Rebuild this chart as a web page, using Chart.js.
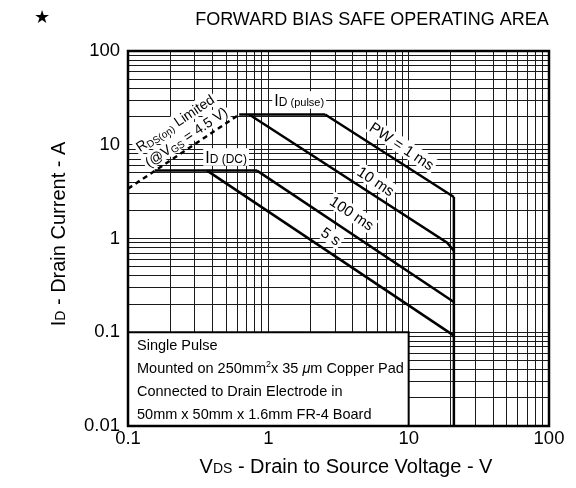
<!DOCTYPE html>
<html>
<head>
<meta charset="utf-8">
<script src="https://cdn.jsdelivr.net/npm/chart.js@4"></script>
<style>
  html, body { margin: 0; padding: 0; background: #fff; }
  canvas { display: block; }
</style>
</head>
<body>
<canvas id="soaChart" width="576" height="488"></canvas>
<script>
// SOA boundary segments, [VDS (V), ID (A)]
const rdsOnLimit = [[0.1, 3.4], [0.62, 21]];
const idPulseLimit = [[0.62, 21], [2.54, 21]];
const pw1ms = [[2.54, 21], [21, 2.77]];
const pw10ms = [[0.73, 21], [18.8, 0.9], [21, 0.74]];
const idDcLimit = [[0.155, 5.3], [0.83, 5.3]];
const pw100ms = [[0.83, 5.3], [21, 0.21]];
const dc5s = [[0.366, 5.3], [21, 0.092]];
const vdssLimit = [[21, 2.77], [21, 0.01]];

// axis ticks
const xLabelValues = [0.1, 1, 10, 100];
const xTickLabels = ["0.1", "1", "10", "100"];
const yLabelValues = [0.01, 0.1, 1, 10, 100];
const yTickLabels = ["0.01", "0.1", "1", "10", "100"];

const FONT = "'Liberation Sans', Arial, sans-serif";

// log grid: 1..9 in every decade
function gridValues(decades) {
  const out = [];
  decades.slice(0, -1).forEach((d) => {
    for (let m = 1; m < 10; m++) out.push(+(d * m).toPrecision(3));
  });
  out.push(decades[decades.length - 1]);
  return out;
}
const xGridValues = gridValues(xLabelValues);
const yGridValues = gridValues(yLabelValues);

function labelFor(values, labels) {
  return (value) => {
    const i = values.findIndex((v) => Math.abs(v - value) < v * 1e-6);
    return i >= 0 ? labels[i] : "";
  };
}

function curve(points, dashed) {
  return {
    data: points.map(([vx, vy]) => ({ x: vx, y: vy })),
    showLine: true,
    borderColor: "#000",
    borderWidth: 2.5,
    borderDash: dashed ? [5, 4] : [],
    pointRadius: 0,
    fill: false,
    tension: 0,
  };
}

// draws a run of text pieces: [text, size, dy, style]
function drawRich(ctx, parts, cx, cy, angle, align, bg) {
  let total = 0;
  const sized = parts.map(([text, size, dy = 0, style = ""]) => {
    ctx.font = `${style} ${size}px ${FONT}`;
    const w = ctx.measureText(text).width;
    total += w;
    return { text, size, dy, style, w };
  });
  const maxSize = Math.max(...sized.map((p) => p.size));
  ctx.save();
  ctx.translate(cx, cy);
  ctx.rotate(angle);
  let startX = align === "left" ? 0 : -total / 2;
  if (bg) {
    ctx.fillStyle = "#fff";
    ctx.fillRect(startX - 2, -maxSize * 0.55, total + 4, maxSize * 1.1);
  }
  ctx.fillStyle = "#000";
  ctx.textAlign = "left";
  ctx.textBaseline = "alphabetic";
  sized.forEach((p) => {
    ctx.font = `${p.style} ${p.size}px ${FONT}`;
    ctx.fillText(p.text, startX, maxSize * 0.36 + p.dy);
    startX += p.w;
  });
  ctx.restore();
}

// labels placed in data coordinates, tilt follows the -1 slope
const curveLabels = [
  { at: [8.97, 9.7], tilt: 1, parts: [["PW = 1 ms", 15]] },
  { at: [5.86, 4.1], tilt: 1, parts: [["10 ms", 15]] },
  { at: [3.95, 1.87], tilt: 1, parts: [["100 ms", 15]] },
  { at: [2.8, 1.06], tilt: 1, parts: [["5 s", 15]] },
  { at: [1.66, 30], tilt: 0, parts: [["I", 16], ["D", 12], [" (pulse)", 11]] },
  { at: [0.5, 7.4], tilt: 0, parts: [["I", 16], ["D", 12], [" (DC)", 12]] },
  { at: [0.216, 17.1], tilt: -1, parts: [["R", 14], ["DS(on)", 10, 2], [" Limited", 14]] },
  { at: [0.259, 12.1], tilt: -1, parts: [["(@V", 14], ["GS", 10, 2], [" = 4.5 V)", 14]] },
];

const noteLines = [
  [["Single Pulse", 14.5]],
  [["Mounted on 250mm", 14.5], ["2", 9, -6], ["x 35 ", 14.5], ["\u03bc", 14.5, 0, "italic"], ["m Copper Pad", 14.5]],
  [["Connected to Drain Electrode in", 14.5]],
  [["50mm x 50mm x 1.6mm FR-4 Board", 14.5]],
];

const soaDecor = {
  id: "soaDecor",
  afterDatasetsDraw(chart) {
    const { ctx, chartArea: area } = chart;
    const { x, y } = chart.scales;
    const slope = Math.atan2(
      y.getPixelForValue(1) - y.getPixelForValue(10),
      x.getPixelForValue(10) - x.getPixelForValue(1)
    );

    // note box in the lower left corner
    const bl = x.getPixelForValue(0.1);
    const br = x.getPixelForValue(10);
    const bt = y.getPixelForValue(0.1);
    const bb = y.getPixelForValue(0.01);
    ctx.save();
    ctx.fillStyle = "#fff";
    ctx.fillRect(bl, bt, br - bl, bb - bt);
    ctx.strokeStyle = "#000";
    ctx.lineWidth = 2;
    ctx.strokeRect(bl, bt, br - bl, bb - bt);
    ctx.restore();
    noteLines.forEach((parts, i) => {
      drawRich(ctx, parts, bl + 9, bt + 13 + i * 23, 0, "left", false);
    });

    curveLabels.forEach((lab) => {
      const px = x.getPixelForValue(lab.at[0]);
      const py = y.getPixelForValue(lab.at[1]);
      drawRich(ctx, lab.parts, px, py, lab.tilt * slope, "center", true);
    });

    // heavy frame
    ctx.save();
    ctx.strokeStyle = "#000";
    ctx.lineWidth = 2.5;
    ctx.strokeRect(area.left, area.top, area.right - area.left, area.bottom - area.top);
    ctx.restore();

    // titles
    drawRich(ctx, [["FORWARD BIAS SAFE OPERATING AREA", 18]], 372, 19, 0, "center", false);
    ctx.save();
    ctx.font = "18px 'DejaVu Sans'";
    ctx.fillStyle = "#000";
    ctx.textAlign = "center";
    ctx.textBaseline = "middle";
    ctx.fillText("\u2605", 42, 18);
    ctx.restore();
    drawRich(ctx, [["V", 20], ["DS", 14], [" - Drain to Source Voltage - V", 20]], 346, 466, 0, "center", false);
    drawRich(ctx, [["I", 20], ["D", 14], [" - Drain Current - A", 20]], 58, 234, -Math.PI / 2, "center", false);
  },
};

const ctx = document.getElementById("soaChart").getContext("2d");
const soaChart = new Chart(ctx, {
  type: "scatter",
  data: {
    datasets: [
      curve(rdsOnLimit, true),
      curve(idPulseLimit),
      curve(pw1ms),
      curve(pw10ms),
      curve(idDcLimit),
      curve(pw100ms),
      curve(dc5s),
      curve(vdssLimit),
    ],
  },
  options: {
    responsive: false,
    animation: false,
    layout: { padding: { top: 51, right: 27, left: 0, bottom: 0 } },
    plugins: {
      legend: { display: false },
      tooltip: { enabled: false },
      title: { display: false },
    },
    scales: {
      x: {
        type: "logarithmic",
        min: 0.1,
        max: 100,
        afterBuildTicks: (scale) => {
          scale.ticks = xGridValues.map((value) => ({ value }));
        },
        afterFit: (scale) => {
          scale.height = 62;
        },
        grid: { color: "#1a1a1a", lineWidth: 1, drawTicks: false },
        border: { display: false },
        ticks: {
          autoSkip: false,
          maxRotation: 0,
          padding: 2,
          color: "#000",
          font: { family: FONT, size: 18.5 },
          callback: labelFor(xLabelValues, xTickLabels),
        },
      },
      y: {
        type: "logarithmic",
        min: 0.01,
        max: 100,
        afterBuildTicks: (scale) => {
          scale.ticks = yGridValues.map((value) => ({ value }));
        },
        afterFit: (scale) => {
          scale.width = 128;
        },
        grid: { color: "#1a1a1a", lineWidth: 1, drawTicks: false },
        border: { display: false },
        ticks: {
          autoSkip: false,
          padding: 8,
          color: "#000",
          font: { family: FONT, size: 18.5 },
          callback: labelFor(yLabelValues, yTickLabels),
        },
      },
    },
  },
  plugins: [soaDecor],
});
</script>
</body>
</html>
